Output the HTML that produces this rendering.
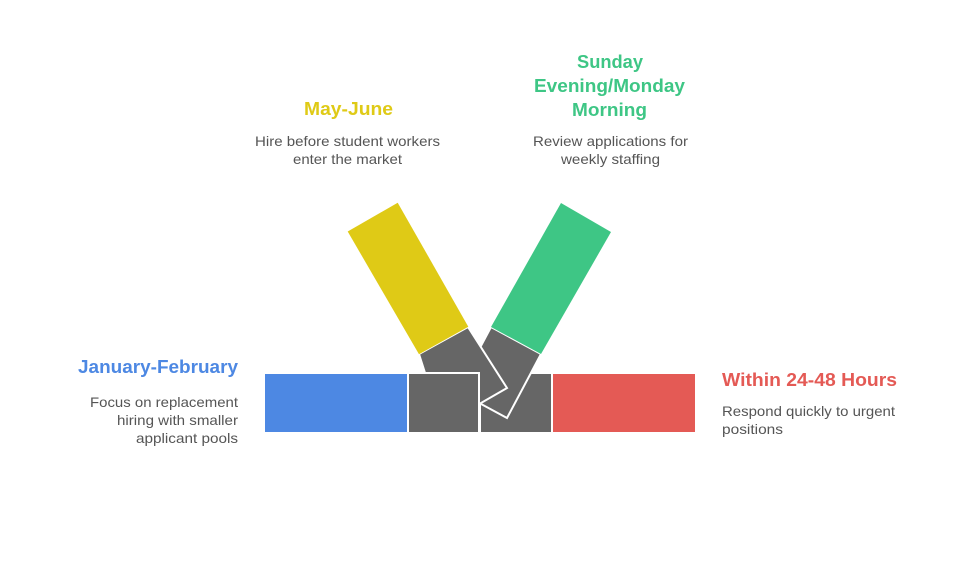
<!DOCTYPE html>
<html><head><style>
body{margin:0;background:#fff;}
svg text{font-family:"Liberation Sans",Arial,sans-serif;}
</style></head><body>
<svg width="960" height="565" viewBox="0 0 960 565">
<rect x="265" y="374" width="142" height="58" fill="#4d88e3"/>
<rect x="553" y="374" width="142" height="58" fill="#e45a55"/>
<rect x="481" y="374" width="70" height="58" fill="#666"/>
<polygon points="491,327 541,354 507,418 457,391" fill="#666" stroke="#fff" stroke-width="2"/>
<polygon points="491,327 541,354 611,232 561,203" fill="#3ec685"/>
<polygon points="419,354 468,327 507,388 481,403 440,420" fill="#666" stroke="#fff" stroke-width="2"/>
<rect x="408" y="373" width="71" height="60" fill="#666" stroke="#fff" stroke-width="2"/>
<polygon points="347.7,231.5 397.7,202.7 468.3,326.7 419,354.3" fill="#dfca16"/>
<g font-size="18" font-weight="bold" lengthAdjust="spacingAndGlyphs">
<text x="78" y="373" textLength="160" lengthAdjust="spacingAndGlyphs" fill="#4d88e3">January-February</text>
<text x="722" y="386" textLength="175" lengthAdjust="spacingAndGlyphs" fill="#e45a55">Within 24-48 Hours</text>
<text x="304" y="115" textLength="89" lengthAdjust="spacingAndGlyphs" fill="#dfca16">May-June</text>
<text x="577" y="68" textLength="66" lengthAdjust="spacingAndGlyphs" fill="#3ec685">Sunday</text>
<text x="534" y="92" textLength="151" lengthAdjust="spacingAndGlyphs" fill="#3ec685">Evening/Monday</text>
<text x="572" y="116" textLength="75" lengthAdjust="spacingAndGlyphs" fill="#3ec685">Morning</text>
</g>
<g font-size="14" fill="#555">
<text x="90" y="407" textLength="148" lengthAdjust="spacingAndGlyphs">Focus on replacement</text>
<text x="117" y="425" textLength="121" lengthAdjust="spacingAndGlyphs">hiring with smaller</text>
<text x="136" y="443" textLength="102" lengthAdjust="spacingAndGlyphs">applicant pools</text>
<text x="722" y="416" textLength="173" lengthAdjust="spacingAndGlyphs">Respond quickly to urgent</text>
<text x="722" y="434" textLength="61" lengthAdjust="spacingAndGlyphs">positions</text>
<text x="255" y="146" textLength="185" lengthAdjust="spacingAndGlyphs">Hire before student workers</text>
<text x="293" y="164" textLength="109" lengthAdjust="spacingAndGlyphs">enter the market</text>
<text x="533" y="146" textLength="155" lengthAdjust="spacingAndGlyphs">Review applications for</text>
<text x="561" y="164" textLength="99" lengthAdjust="spacingAndGlyphs">weekly staffing</text>
</g>
</svg>
</body></html>
